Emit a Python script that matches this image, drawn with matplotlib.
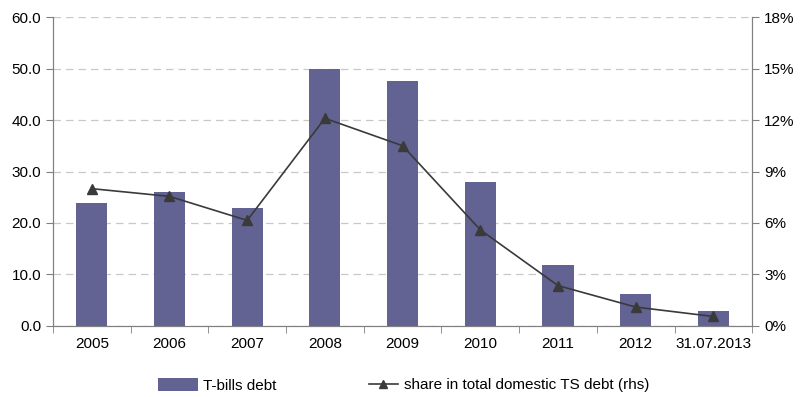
import matplotlib.pyplot as plt
import numpy as np
from matplotlib.ticker import FuncFormatter

plt.rcParams['font.family'] = ['Liberation Sans', 'DejaVu Sans']

years = ['2005', '2006', '2007', '2008', '2009', '2010', '2011', '2012', '31.07.2013']
tbills = [23.9, 26.0, 22.9, 50.0, 47.6, 28.0, 11.8, 6.2, 2.9]
share = [8.0, 7.55, 6.15, 12.1, 10.5, 5.6, 2.35, 1.1, 0.55]

x = np.arange(len(years))

fig = plt.figure(figsize=(8.02, 3.97), dpi=100)
ax = fig.add_axes([0.066, 0.179, 0.872, 0.778])
ax2 = ax.twinx()

bars = ax.bar(x, tbills, width=0.4, color='#626293', zorder=2, label='T-bills debt')
line, = ax2.plot(x, share, color='#3a3a3a', lw=1.2, marker='^', ms=7, zorder=3,
                 label='share in total domestic TS debt (rhs)')

ax.set_xlim(-0.5, len(years) - 0.5)
ax.set_ylim(0, 60)
ax.set_yticks(np.arange(0, 61, 10))
ax.yaxis.set_major_formatter(FuncFormatter(lambda v, p: f'{v:.1f}'))
ax2.set_ylim(0, 18)
ax2.set_yticks(np.arange(0, 19, 3))
ax2.yaxis.set_major_formatter(FuncFormatter(lambda v, p: f'{v:.0f}%'))

ax.set_xticks(x)
ax.set_xticklabels(years)
ax.set_xticks(np.arange(-0.5, len(years), 1), minor=True)
ax.tick_params(axis='x', which='major', length=0, pad=8, labelsize=11)
ax.tick_params(axis='x', which='minor', length=5, color='#808080', direction='out')
ax.tick_params(axis='y', length=5, color='#808080', labelsize=11)
ax2.tick_params(axis='y', length=5, color='#808080', labelsize=11)

ax.grid(axis='y', color='#c8c8c8', linestyle=(0, (6, 4)), lw=0.9, zorder=0)
ax.set_axisbelow(True)

for a in (ax, ax2):
    a.spines['top'].set_visible(False)
    for s in ('left', 'right', 'bottom'):
        a.spines[s].set_color('#808080')

# two legend entries placed separately below the plot
leg1 = fig.legend([bars], ['T-bills debt'], loc='center left',
                  bbox_to_anchor=(0.197, 0.03), frameon=False, fontsize=11,
                  handlelength=2.6, handleheight=1.0, handletextpad=0.35,
                  borderpad=0, borderaxespad=0)
leg2 = fig.legend([line], ['share in total domestic TS debt (rhs)'], loc='center left',
                  bbox_to_anchor=(0.46, 0.03), frameon=False, fontsize=11,
                  handlelength=1.9, handletextpad=0.4, markerscale=0.8,
                  borderpad=0, borderaxespad=0)

fig.savefig('out.png', dpi=100)
